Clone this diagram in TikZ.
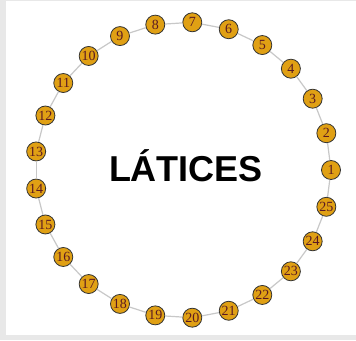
\documentclass[tikz,border=0pt]{standalone}
\usepackage{fontspec}
\setmainfont{Liberation Serif}
\newfontfamily\titlefont{Liberation Sans}
\definecolor{vertexfill}{RGB}{224, 160, 20}
\definecolor{vertexnum}{RGB}{90, 25, 35}
\definecolor{edgegray}{RGB}{200, 200, 200}
\definecolor{framegray}{RGB}{232, 232, 232}
\usetikzlibrary{positioning}

\begin{document}
\begin{tikzpicture}[x=1pt, y=1pt,
    vertex/.style={circle, draw=black!80, line width=0.8pt, fill=vertexfill,
        minimum size=19pt, inner sep=0pt, text=vertexnum,
        font=\fontsize{14}{14}\selectfont},
    link/.style={edgegray, line width=1.2pt}]
    % Frame
    \fill[framegray] (0,0) rectangle (356,340);
    \fill[white] (6,5) rectangle (356,339);
    \useasboundingbox (0,0) rectangle (356,340);

    % Vertices on the ring
    \foreach \i in {1,...,25} {
        \node[vertex] (n\i) at ({183+148*cos((\i-1)*14.4)}, {170+148*sin((\i-1)*14.4)}) {\i};
    }

    % Ring edges
    \foreach \i [evaluate=\i as \j using {int(mod(\i,25)+1)}] in {1,...,25} {
        \draw[link] (n\i) -- (n\j);
    }

    % Title
    \node[anchor=base, font=\titlefont\bfseries\fontsize{36}{36}\selectfont] (title) at (186,158) {LÁTICES};
\end{tikzpicture}
\end{document}
